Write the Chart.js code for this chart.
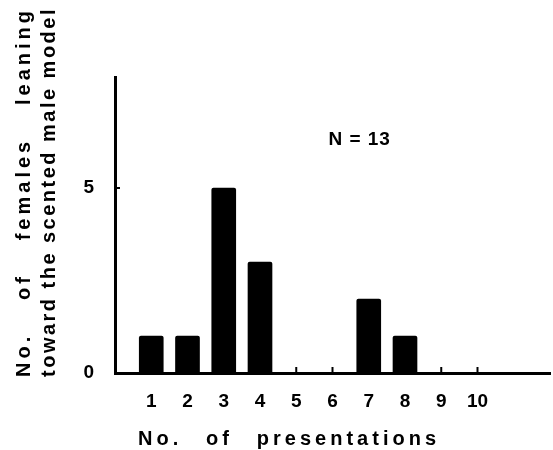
<!DOCTYPE html>
<html lang="en">
<head>
  <meta charset="UTF-8" />
  <title>Females leaning toward the scented male model</title>
  <script src="https://cdn.jsdelivr.net/npm/chart.js"></script>
  <style>
    body {
      margin: 0;
      background: #fff;
    }
    .wrap {
      width: 553px;
      height: 450px;
    }
  </style>
</head>
<body>
  <div class="wrap">
    <canvas id="chart"></canvas>
  </div>

  <script>
    // data
    const presentations = [1, 2, 3, 4, 5, 6, 7, 8, 9, 10];
    const females = [1, 1, 5, 3, 0, 0, 2, 1, 0, 0];
    const yTickValues = [0, 5];
    const xRange = [0, 12];
    const yRange = [0, 8];

    const yTitle = [
      ['No.', 'of', 'females', 'leaning'],
      ['toward', 'the', 'scented', 'male', 'model']
    ];
    const xTitle = ['No.', 'of', 'presentations'];
    const note = 'N = 13';

    const FONT = "'Liberation Sans', Arial, sans-serif";

    // spread words evenly between 0 and len along the current x direction
    function drawSpread(ctx, words, len, y) {
      const widths = words.map(w => ctx.measureText(w).width);
      const total = widths.reduce((a, b) => a + b, 0);
      const gap = (len - total) / (words.length - 1);
      let x = 0;
      words.forEach((w, i) => {
        ctx.fillText(w, x, y);
        x += widths[i] + gap;
      });
    }

    const extras = {
      id: 'extras',
      afterDatasetsDraw(chart) {
        const { ctx, scales: { x, y } } = chart;
        const y0 = y.getPixelForValue(0);
        const x0 = x.getPixelForValue(0);

        ctx.save();
        ctx.strokeStyle = '#000';
        ctx.lineWidth = 2;
        // small inward ticks
        presentations.forEach(v => {
          const px = x.getPixelForValue(v);
          ctx.beginPath();
          ctx.moveTo(px, y0);
          ctx.lineTo(px, y0 - 6);
          ctx.stroke();
        });
        yTickValues.slice(1).forEach(v => {
          const py = y.getPixelForValue(v);
          ctx.beginPath();
          ctx.moveTo(x0, py);
          ctx.lineTo(x0 + 5, py);
          ctx.stroke();
        });

        ctx.fillStyle = '#000';
        ctx.textAlign = 'left';
        ctx.textBaseline = 'alphabetic';

        // rotated y title, two lines
        ctx.save();
        ctx.font = 'bold 20px ' + FONT;
        ctx.translate(0, 377);
        ctx.rotate(-Math.PI / 2);
        ctx.letterSpacing = '4px';
        drawSpread(ctx, yTitle[0], 370, 30);
        ctx.letterSpacing = '2.5px';
        drawSpread(ctx, yTitle[1], 370, 55);
        ctx.restore();

        // x title
        ctx.save();
        ctx.font = 'bold 20px ' + FONT;
        ctx.letterSpacing = '4px';
        ctx.translate(138, 445);
        drawSpread(ctx, xTitle, 302, 0);
        ctx.restore();

        // sample size note
        ctx.font = 'bold 19px ' + FONT;
        ctx.letterSpacing = '1px';
        ctx.textAlign = 'center';
        ctx.textBaseline = 'middle';
        ctx.fillText(note, x.getPixelForValue(6.75), y.getPixelForValue(6.3));
        ctx.restore();
      }
    };

    const tickFont = { family: FONT, size: 19, weight: 'bold' };

    new Chart(document.getElementById('chart'), {
      type: 'bar',
      data: {
        datasets: [{
          data: presentations.map((p, i) => ({ x: p, y: females[i] })),
          backgroundColor: '#000',
          borderWidth: 0,
          borderRadius: 2,
          barThickness: 24
        }]
      },
      options: {
        responsive: true,
        maintainAspectRatio: false,
        animation: false,
        layout: { padding: { top: 77, right: 3, left: 0, bottom: 0 } },
        plugins: {
          legend: { display: false },
          tooltip: { enabled: false }
        },
        scales: {
          x: {
            type: 'linear',
            min: xRange[0],
            max: xRange[1],
            offset: false,
            afterBuildTicks: s => { s.ticks = presentations.map(v => ({ value: v })); },
            afterFit: s => { s.height = 77; },
            grid: { drawOnChartArea: false, drawTicks: false },
            border: { color: '#000', width: 3 },
            ticks: { color: '#000', font: tickFont, padding: 17, maxRotation: 0, autoSkip: false }
          },
          y: {
            min: yRange[0],
            max: yRange[1],
            afterBuildTicks: s => { s.ticks = yTickValues.map(v => ({ value: v })); },
            afterFit: s => { s.width = 115; },
            grid: { drawOnChartArea: false, drawTicks: false },
            border: { color: '#000', width: 3 },
            ticks: { color: '#000', font: tickFont, padding: 21 }
          }
        }
      },
      plugins: [extras]
    });
  </script>
</body>
</html>
